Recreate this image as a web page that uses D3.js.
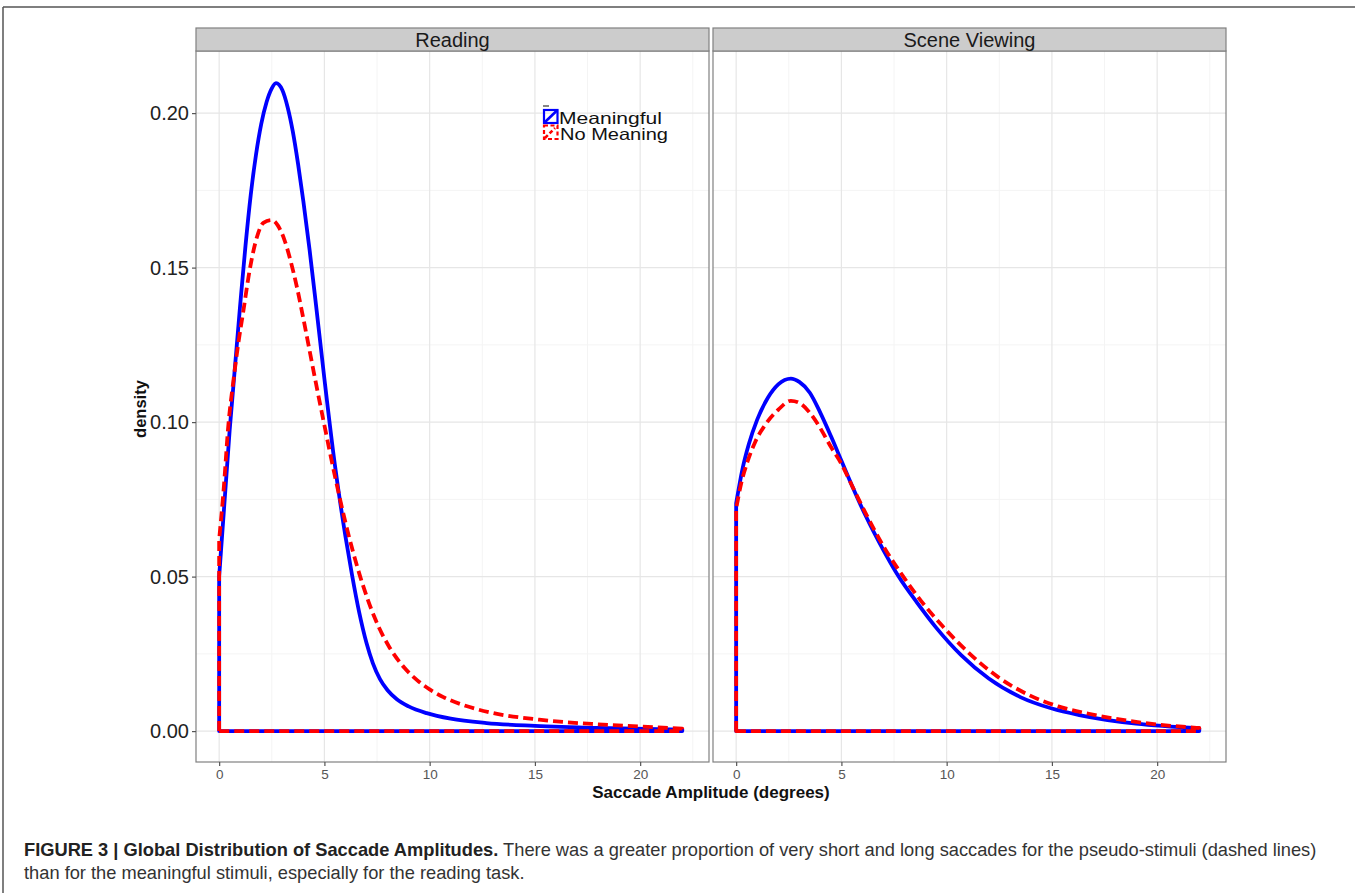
<!DOCTYPE html>
<html>
<head>
<meta charset="utf-8">
<script src="https://cdn.jsdelivr.net/npm/d3@7"></script>
<style>
  html, body { margin: 0; padding: 0; background: #fff; }
  svg { display: block; font-family: "Liberation Sans", Arial, sans-serif; }
</style>
</head>
<body>
<svg id="chart" width="1355" height="893"></svg>
<script>
// ---------------- DATA ----------------
const panels = ["Reading", "Scene Viewing"];
const seriesNames = ["Meaningful", "No Meaning"];
const xTicks = [0, 5, 10, 15, 20];
const xMinor = [2.5, 7.5, 12.5, 17.5, 22.5];
const yTicks = [0, 0.05, 0.10, 0.15, 0.20];
const yTickLabels = ["0.00", "0.05", "0.10", "0.15", "0.20"];
const yMinor = [0.025, 0.075, 0.125, 0.175];

// Reading – Meaningful (blue solid)
const readingMeaningfulX = [0, 0.5, 1.0, 1.25, 1.5, 1.75, 2.0, 2.25, 2.5, 2.7, 3.0, 3.25, 3.5, 3.75, 4.0, 4.3, 4.6, 5.0, 5.5, 6.0, 6.3, 6.65, 7.0, 7.3, 7.64, 8.0, 8.44, 9.0, 9.86, 11, 12.7, 15, 18, 22];
const readingMeaningfulY = [0.050, 0.0975, 0.138, 0.157, 0.1735, 0.1865, 0.1965, 0.2035, 0.2080, 0.2097, 0.2075, 0.2020, 0.1940, 0.1835, 0.1715, 0.1555, 0.138, 0.114, 0.086, 0.063, 0.051, 0.0385, 0.0285, 0.0220, 0.0168, 0.0132, 0.0103, 0.0080, 0.0058, 0.0040, 0.0026, 0.0017, 0.0010, 0.0005];
// Reading – No Meaning (red dashed)
const readingNoMeaningX = [0, 0.2, 0.45, 0.67, 0.9, 1.15, 1.47, 1.8, 2.1, 2.5, 2.8, 3.1, 3.4, 3.7, 4.0, 4.3, 4.6, 4.94, 5.5, 6.0, 6.7, 7.4, 8.1, 8.8, 9.4, 10.0, 10.65, 11.7, 12.9, 15.2, 18, 20, 22];
const readingNoMeaningY = [0.062, 0.077, 0.100, 0.113, 0.125, 0.136, 0.150, 0.160, 0.1645, 0.1654, 0.1635, 0.159, 0.152, 0.1435, 0.1335, 0.123, 0.1125, 0.101, 0.0825, 0.0675, 0.050, 0.0365, 0.0270, 0.0205, 0.0165, 0.0135, 0.011, 0.0082, 0.0060, 0.0037, 0.0022, 0.0015, 0.0008];
// Scene Viewing – Meaningful (blue solid)
const sceneMeaningfulX = [0, 0.3, 0.6, 1.0, 1.5, 2.0, 2.6, 3.0, 3.5, 4.0, 4.5, 5.0, 5.5, 6.13, 7.0, 7.72, 8.6, 9.5, 10.7, 12.0, 13.5, 15.0, 16.3, 19, 22];
const sceneMeaningfulY = [0.0737, 0.0848, 0.0928, 0.1008, 0.1078, 0.1122, 0.1141, 0.1130, 0.1095, 0.1030, 0.0955, 0.0875, 0.0795, 0.0700, 0.0585, 0.0500, 0.0415, 0.0335, 0.0245, 0.0170, 0.0110, 0.0073, 0.0052, 0.0024, 0.0009];
// Scene Viewing – No Meaning (red dashed)
const sceneNoMeaningX = [0, 0.25, 0.53, 0.9, 1.42, 2.0, 2.6, 3.0, 3.5, 4.0, 4.5, 5.0, 5.5, 6.13, 7.0, 7.94, 8.8, 9.8, 11.1, 12.4, 13.9, 15.3, 16.7, 19.3, 22];
const sceneNoMeaningY = [0.072, 0.0805, 0.0870, 0.0935, 0.0995, 0.1040, 0.1069, 0.1062, 0.1030, 0.0980, 0.0920, 0.0865, 0.0795, 0.0708, 0.0598, 0.0500, 0.0420, 0.0340, 0.0250, 0.0177, 0.0117, 0.0080, 0.0057, 0.0027, 0.0010];

const seriesColors = ["#0000ff", "#ff0000"];
const captionBold = "FIGURE 3 | Global Distribution of Saccade Amplitudes.";
const captionRest = " There was a greater proportion of very short and long saccades for the pseudo-stimuli (dashed lines)";
const captionLine2 = "than for the meaningful stimuli, especially for the reading task.";

const panelData = [
  [ {xs: readingMeaningfulX, ys: readingMeaningfulY}, {xs: readingNoMeaningX, ys: readingNoMeaningY} ],
  [ {xs: sceneMeaningfulX, ys: sceneMeaningfulY}, {xs: sceneNoMeaningX, ys: sceneNoMeaningY} ]
];

// ---------------- LAYOUT ----------------
const svg = d3.select("#chart");
const panelLefts = [196, 713];
const panelW = 513;
const panelTop = 51, panelBottom = 762, stripTop = 28;

// figure frame
svg.append("line").attr("x1", 3).attr("x2", 1355).attr("y1", 7).attr("y2", 7)
  .attr("stroke", "#555").attr("stroke-width", 1.5);
svg.append("line").attr("x1", 3).attr("x2", 3).attr("y1", 7).attr("y2", 893)
  .attr("stroke", "#555").attr("stroke-width", 1.5);

const y = d3.scaleLinear().domain([-0.0100, 0.2201]).range([panelBottom, panelTop]);

panels.forEach((name, pi) => {
  const left = panelLefts[pi];
  const x = d3.scaleLinear().domain([-1.1, 23.27]).range([left, left + panelW]);
  const g = svg.append("g");

  // minor grid
  g.selectAll(".gxm").data(xMinor.filter(v => x(v) < left + panelW)).enter().append("line")
    .attr("x1", d => x(d)).attr("x2", d => x(d)).attr("y1", panelTop).attr("y2", panelBottom)
    .attr("stroke", "#f4f4f4").attr("stroke-width", 1);
  g.selectAll(".gym").data(yMinor).enter().append("line")
    .attr("x1", left).attr("x2", left + panelW).attr("y1", d => y(d)).attr("y2", d => y(d))
    .attr("stroke", "#f4f4f4").attr("stroke-width", 1);
  // major grid
  g.selectAll(".gx").data(xTicks).enter().append("line")
    .attr("x1", d => x(d)).attr("x2", d => x(d)).attr("y1", panelTop).attr("y2", panelBottom)
    .attr("stroke", "#e6e6e6").attr("stroke-width", 1.2);
  g.selectAll(".gy").data(yTicks).enter().append("line")
    .attr("x1", left).attr("x2", left + panelW).attr("y1", d => y(d)).attr("y2", d => y(d))
    .attr("stroke", "#e6e6e6").attr("stroke-width", 1.2);

  // curves (closed density outlines)
  const line = d3.line().x(d => x(d[0])).y(d => y(d[1])).curve(d3.curveMonotoneX);
  panelData[pi].forEach((s, si) => {
    const pts = s.xs.map((v, i) => [v, s.ys[i]]);
    const curvePath = line(pts);
    const xe = s.xs[s.xs.length - 1];
    const d = `M${x(0)},${y(0)}L` + curvePath.slice(1) + `L${x(xe)},${y(0)}Z`;
    g.append("path").attr("d", d).attr("fill", "none")
      .attr("stroke", seriesColors[si]).attr("stroke-width", 3.8)
      .attr("stroke-linejoin", "round")
      .attr("stroke-dasharray", si === 1 ? "10,5" : null);
  });

  // panel border
  g.append("rect").attr("x", left).attr("y", panelTop).attr("width", panelW)
    .attr("height", panelBottom - panelTop).attr("fill", "none")
    .attr("stroke", "#808080").attr("stroke-width", 1.2);
  // strip
  g.append("rect").attr("x", left).attr("y", stripTop).attr("width", panelW)
    .attr("height", panelTop - stripTop).attr("fill", "#cccccc")
    .attr("stroke", "#808080").attr("stroke-width", 1.2);
  g.append("text").attr("x", left + panelW / 2).attr("y", 47).attr("text-anchor", "middle")
    .attr("font-size", 20).attr("fill", "#1a1a1a").text(name);

  // x axis
  const xAxis = d3.axisBottom(x).tickValues(xTicks).tickSize(4).tickPadding(3);
  const ax = svg.append("g").attr("transform", `translate(0,${panelBottom})`).call(xAxis);
  ax.select(".domain").remove();
  ax.selectAll(".tick line").attr("stroke", "#555").attr("stroke-width", 1.2);
  ax.selectAll(".tick text").attr("font-size", 13.5).attr("fill", "#555")
    .attr("font-family", "Liberation Sans, Arial, sans-serif");
});

// y axis
const yAxis = d3.axisLeft(y).tickValues(yTicks).tickFormat((d, i) => yTickLabels[i]).tickSize(4).tickPadding(3);
const ay = svg.append("g").attr("transform", `translate(${panelLefts[0]},0)`).call(yAxis);
ay.select(".domain").remove();
ay.selectAll(".tick line").attr("stroke", "#555").attr("stroke-width", 1.2);
ay.selectAll(".tick text").attr("font-size", 20).attr("fill", "#222")
  .attr("font-family", "Liberation Sans, Arial, sans-serif");

// axis titles
svg.append("text").attr("x", 711).attr("y", 798).attr("text-anchor", "middle")
  .attr("font-size", 17).attr("font-weight", "bold").attr("fill", "#111")
  .text("Saccade Amplitude (degrees)");
svg.append("text").attr("transform", "translate(146,409) rotate(-90)").attr("text-anchor", "middle")
  .attr("font-size", 16.5).attr("font-weight", "bold").attr("fill", "#111").text("density");

// legend
const lg = svg.append("g");
lg.append("line").attr("x1", 543).attr("x2", 549).attr("y1", 106).attr("y2", 106)
  .attr("stroke", "#333").attr("stroke-width", 1.2);
lg.append("rect").attr("x", 544).attr("y", 110).attr("width", 13.5).attr("height", 13)
  .attr("fill", "none").attr("stroke", seriesColors[0]).attr("stroke-width", 2.2);
lg.append("line").attr("x1", 544).attr("y1", 123).attr("x2", 557.5).attr("y2", 110)
  .attr("stroke", seriesColors[0]).attr("stroke-width", 2.6);
lg.append("rect").attr("x", 544).attr("y", 125.5).attr("width", 13.5).attr("height", 13.5)
  .attr("fill", "none").attr("stroke", seriesColors[1]).attr("stroke-width", 2.2)
  .attr("stroke-dasharray", "4,2.5");
lg.append("line").attr("x1", 545).attr("y1", 138).attr("x2", 555).attr("y2", 128)
  .attr("stroke", seriesColors[1]).attr("stroke-width", 2.6).attr("stroke-dasharray", "4,2.5");
lg.append("text").attr("x", 559).attr("y", 124).attr("font-size", 16.5).attr("fill", "#111")
  .attr("textLength", 103).attr("lengthAdjust", "spacingAndGlyphs").text(seriesNames[0]);
lg.append("text").attr("x", 560).attr("y", 140).attr("font-size", 16.5).attr("fill", "#111")
  .attr("textLength", 108).attr("lengthAdjust", "spacingAndGlyphs").text(seriesNames[1]);

// caption
const cap = svg.append("text").attr("x", 24).attr("y", 856).attr("font-size", 16).attr("fill", "#333");
cap.append("tspan").attr("font-weight", "bold").attr("fill", "#222").text(captionBold);
cap.append("tspan").text(captionRest);
const cap2 = svg.append("text").attr("x", 24).attr("y", 879).attr("font-size", 16).attr("fill", "#333").text(captionLine2);
// fit caption line 1 to the reference width
const w1 = cap.node().getComputedTextLength();
const fs = 16 * 1294 / w1;
cap.attr("font-size", fs);
cap2.attr("font-size", fs);
</script>
</body>
</html>
